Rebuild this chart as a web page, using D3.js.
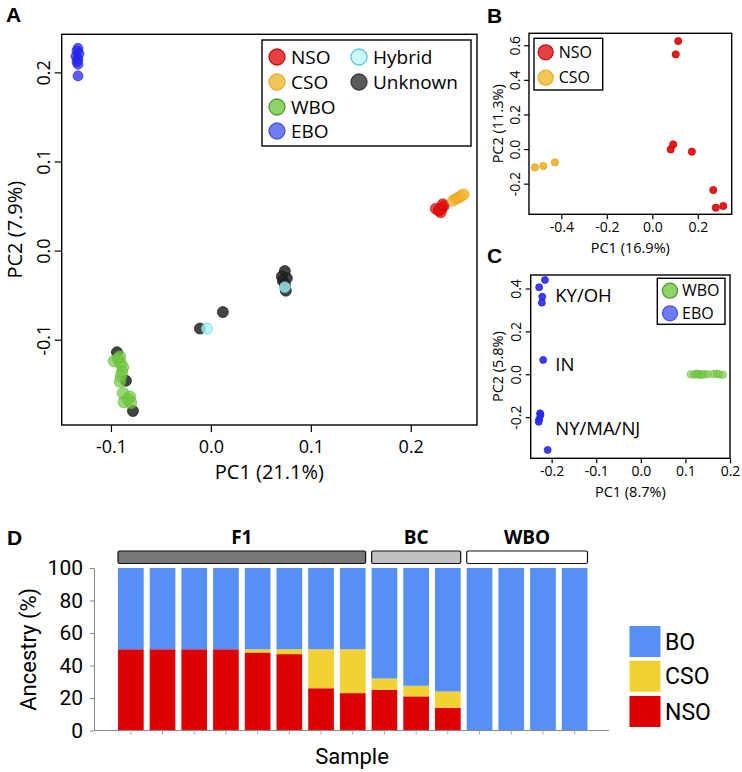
<!DOCTYPE html>
<html><head><meta charset="utf-8">
<script src="https://cdn.jsdelivr.net/npm/d3@7"></script>
<style>body{margin:0;background:#fff} svg text{font-family:"Open Sans","DejaVu Sans",sans-serif}</style>
</head><body><svg id="chart" width="742" height="772"></svg>
<script>
// ---------- Panel A data: [PC1, PC2] ----------
const aUnknown = [[-0.094,-0.114],[-0.085,-0.146],[-0.078,-0.180],[-0.011,-0.0875],[0.012,-0.069],
  [0.074,-0.023],[0.071,-0.029],[0.076,-0.031],[0.072,-0.034],[0.074,-0.038],[0.075,-0.045]];
const aWBO = [[-0.097,-0.124],[-0.093,-0.121],[-0.091,-0.119],[-0.090,-0.127],[-0.088,-0.131],[-0.089,-0.136],
  [-0.090,-0.141],[-0.091,-0.147],[-0.088,-0.160],[-0.081,-0.164],[-0.087,-0.170],[-0.080,-0.171],[-0.083,-0.167]];
const aEBO = [[-0.133,0.227],[-0.134,0.224],[-0.132,0.221],[-0.135,0.218],[-0.133,0.215],[-0.134,0.212],[-0.133,0.209],[-0.133,0.196]];
const aNSO = [[0.225,0.047],[0.228,0.045],[0.231,0.048],[0.233,0.050],[0.230,0.043],[0.229,0.046],[0.232,0.052]];
const aCSO = [[0.242,0.056],[0.245,0.058],[0.247,0.059],[0.249,0.060],[0.251,0.062],[0.253,0.063]];
const aHybrid = [[-0.004,-0.0875],[0.074,-0.041]];
const aXTicks = [-0.1, 0.0, 0.1, 0.2];
const aYTicks = [-0.1, 0.0, 0.1, 0.2];
const aLegend = ["NSO","CSO","WBO","EBO","Hybrid","Unknown"];

// ---------- Panel B data ----------
const bNSO = [[0.114,0.624],[0.103,0.547],[0.092,0.027],[0.081,-0.002],[0.174,-0.015],[0.268,-0.237],[0.279,-0.339],[0.312,-0.329]];
const bCSO = [[-0.516,-0.106],[-0.479,-0.098],[-0.428,-0.077]];
const bXTicks = [-0.4,-0.2,0.0,0.2];
const bYTicks = [-0.2,0.0,0.2,0.4,0.6];

// ---------- Panel C data ----------
const cEBO = [[-0.215,0.440],[-0.228,0.406],[-0.221,0.362],[-0.222,0.334],[-0.219,0.067],
  [-0.226,-0.182],[-0.225,-0.190],[-0.228,-0.210],[-0.229,-0.222],[-0.209,-0.353]];
const cWBO = [[0.112,0.0],[0.120,-0.002],[0.125,0.003],[0.129,0.0],[0.134,-0.003],[0.138,0.001],[0.143,-0.001],
  [0.150,0.0],[0.163,0.001],[0.170,0.003],[0.176,-0.001],[0.184,-0.002]];
const cXTicks = [-0.2,-0.1,0.0,0.1,0.2];
const cYTicks = [-0.2,0.0,0.2,0.4];
const cRegions = ["KY/OH","IN","NY/MA/NJ"];
const cRegionY = [0.37, 0.045, -0.25];

// ---------- Panel D data ----------
const samples = ["S1","S2","S3","S4","S5","S6","S7","S8","S9","S10","S11","S12","S13","S14","S15"];
const dNSO = [50,50,50,50,48,47,26,23,25,21,14,0,0,0,0];
const dCSO = [0,0,0,0,2,3,24,27,7,6.5,10,0,0,0,0];
const dBO  = samples.map((s,i)=>100-dNSO[i]-dCSO[i]);
const dYTicks = [0,20,40,60,80,100];
const groupNames = ["F1","BC","WBO"];
const groupFirst = [0,8,11];
const groupLast  = [7,10,14];
const dKeys = ["NSO","CSO","BO"];

// ---------- styles ----------
const ptStyle = {
  NSO:{fill:"rgb(225,15,15)",stroke:"rgb(200,0,0)"},
  CSO:{fill:"rgb(242,180,45)",stroke:"rgb(225,160,30)"},
  WBO:{fill:"rgb(115,200,65)",stroke:"rgb(95,180,50)"},
  EBO:{fill:"rgb(40,40,235)",stroke:"rgb(30,30,220)"},
  Hybrid:{fill:"rgb(165,245,245)",stroke:"rgb(80,200,215)"},
  Unknown:{fill:"rgb(35,35,35)",stroke:"rgb(20,20,20)"}
};
const legStyle = {
  NSO:{fill:"#e84040",stroke:"#c01010"}, CSO:{fill:"#f3c65a",stroke:"#e6ac2a"},
  WBO:{fill:"#8fd467",stroke:"#4f9a2c"}, EBO:{fill:"#6f7cf2",stroke:"#4a55d8"},
  Hybrid:{fill:"#c8fafa",stroke:"#55c8d8"}, Unknown:{fill:"#5a5a5a",stroke:"#3a3a3a"}
};
const dColor = {NSO:"#dd0000", CSO:"#f2d232", BO:"#5690f5"};
const fmt = v => v.toFixed(1);

const svg = d3.select("#chart");
svg.append("rect").attr("width",742).attr("height",772).attr("fill","#fff");

function scatterPanel(o){
  const x = d3.scaleLinear().domain(o.xd).range([o.x0,o.x1]);
  const y = d3.scaleLinear().domain(o.yd).range([o.y1,o.y0]);
  const g = svg.append("g");
  const ax = g.append("g").attr("transform",`translate(0,${o.y1})`)
    .call(d3.axisBottom(x).tickValues(o.xt).tickFormat(fmt).tickSize(o.tl).tickSizeOuter(0).tickPadding(o.xpad));
  ax.select(".domain").remove();
  ax.selectAll("line").attr("stroke","#000").attr("stroke-width",1.2);
  ax.selectAll("text").attr("font-size",o.fs).attr("fill","#000").style("font-family","'Open Sans',sans-serif");
  const ay = g.append("g").attr("transform",`translate(${o.x0},0)`)
    .call(d3.axisLeft(y).tickValues(o.yt).tickFormat(fmt).tickSize(o.tl).tickSizeOuter(0));
  ay.select(".domain").remove();
  ay.selectAll("line").attr("stroke","#000").attr("stroke-width",1.2);
  ay.selectAll("text").attr("font-size",o.fs).attr("fill","#000")
    .attr("x",0).attr("y",-o.yoff).attr("dy",0).attr("text-anchor","middle")
    .attr("transform","rotate(-90)").style("font-family","'Open Sans',sans-serif");
  g.append("text").attr("x",(o.x0+o.x1)/2).attr("y",o.xtY).attr("text-anchor","middle")
    .attr("font-size",o.tfs).text(o.xtitle);
  g.append("text").attr("transform",`translate(${o.ytX},${(o.y0+o.y1)/2}) rotate(-90)`)
    .attr("text-anchor","middle").attr("font-size",o.tfs).text(o.ytitle);
  return {x,y,g,o};
}
function drawPoints(p, data, key, r, op){
  p.g.append("g").selectAll("circle").data(data).join("circle")
    .attr("cx",d=>p.x(d[0])).attr("cy",d=>p.y(d[1])).attr("r",r)
    .attr("fill",ptStyle[key].fill).attr("fill-opacity",op)
    .attr("stroke",ptStyle[key].stroke).attr("stroke-opacity",op).attr("stroke-width",0.8);
}
function drawBox(p){
  const o=p.o;
  p.g.append("rect").attr("x",o.x0).attr("y",o.y0).attr("width",o.x1-o.x0).attr("height",o.y1-o.y0)
    .attr("fill","none").attr("stroke","#000").attr("stroke-width",1.4);
}
function legendBox(x0,y0,x1,y1,items,cx,cy,r,fs,tx){
  const g = svg.append("g");
  g.append("rect").attr("x",x0).attr("y",y0).attr("width",x1-x0).attr("height",y1-y0)
    .attr("fill","#fff").attr("stroke","#000").attr("stroke-width",1.4);
  items.forEach((k,i)=>{
    g.append("circle").attr("cx",cx[i]).attr("cy",cy[i]).attr("r",r)
      .attr("fill",legStyle[k].fill).attr("stroke",legStyle[k].stroke).attr("stroke-width",1.3);
    g.append("text").attr("x",cx[i]+tx).attr("y",cy[i]).attr("dy","0.36em").attr("font-size",fs).text(k);
  });
}
function panelLetter(t,x,y){
  svg.append("text").attr("x",x).attr("y",y).attr("font-size",21).attr("font-weight","bold")
    .style("font-family","'Liberation Sans',Arial,sans-serif").text(t);
}

// ---------- Panel A ----------
const pA = scatterPanel({x0:61.7,x1:477,y0:34.3,y1:425,xd:[-0.1493,0.2663],yd:[-0.1957,0.2427],
  xt:aXTicks,yt:aYTicks,tl:7,xpad:8,yoff:12,fs:18,tfs:20,xtitle:"PC1 (21.1%)",ytitle:"PC2 (7.9%)",xtY:479,ytX:22});
drawPoints(pA,aUnknown,"Unknown",5.5,0.85);
drawPoints(pA,aWBO,"WBO",5.8,0.72);
drawPoints(pA,aEBO,"EBO",5,0.75);
drawPoints(pA,aNSO,"NSO",5.5,0.75);
drawPoints(pA,aCSO,"CSO",5.5,0.75);
drawPoints(pA,aHybrid,"Hybrid",5.5,0.8);
drawBox(pA);
legendBox(262,40,471,146,aLegend,[277,277,277,277,359,359],[57,82,107,131,57,82],8,19,14);
panelLetter("A",6,22);

// ---------- Panel B ----------
const pB = scatterPanel({x0:529,x1:731.7,y0:33.3,y1:214.3,xd:[-0.542,0.349],yd:[-0.377,0.669],
  xt:bXTicks,yt:bYTicks,tl:5,xpad:3,yoff:9,fs:14,tfs:14.5,xtitle:"PC1 (16.9%)",ytitle:"PC2 (11.3%)",xtY:253,ytX:503});
drawPoints(pB,bCSO,"CSO",3.6,0.95);
drawPoints(pB,bNSO,"NSO",3.6,0.95);
drawBox(pB);
legendBox(534,38.3,602.7,90,["NSO","CSO"],[545.7,545.7],[52.3,77.7],7.5,16,13);
panelLetter("B",487,23);

// ---------- Panel C ----------
const pC = scatterPanel({x0:530.7,x1:730,y0:275,y1:458.3,xd:[-0.247,0.2],yd:[-0.392,0.463],
  xt:cXTicks,yt:cYTicks,tl:5,xpad:3,yoff:10,fs:14,tfs:14.5,xtitle:"PC1 (8.7%)",ytitle:"PC2 (5.8%)",xtY:497,ytX:503});
drawPoints(pC,cWBO,"WBO",3.8,0.6);
drawPoints(pC,cEBO,"EBO",3.5,0.9);
cRegions.forEach((t,i)=>{
  pC.g.append("text").attr("x",pC.x(-0.192)).attr("y",pC.y(cRegionY[i])).attr("dy","0.36em")
    .attr("font-size",18.5).text(t);
});
drawBox(pC);
legendBox(657.3,278.3,725,324.3,["WBO","EBO"],[670,670],[290.7,313.3],7.5,16,12);
panelLetter("C",487,263);

// ---------- Panel D ----------
const condensed = "Roboto,'Open Sans',sans-serif";
const xD = d3.scaleBand().domain(samples).range([118,587.5]).paddingInner(0.19).paddingOuter(0);
const yD = d3.scaleLinear().domain([0,100]).range([730.5,568]);
const table = samples.map((s,i)=>({sample:s,NSO:dNSO[i],CSO:dCSO[i],BO:dBO[i]}));
const stack = d3.stack().keys(dKeys)(table);
const gD = svg.append("g");
gD.selectAll("g.layer").data(stack).join("g").attr("fill",d=>dColor[d.key])
  .selectAll("rect").data(d=>d).join("rect")
  .attr("x",d=>xD(d.data.sample)).attr("width",xD.bandwidth())
  .attr("y",d=>yD(d[1])).attr("height",d=>yD(d[0])-yD(d[1]));
// y axis
const ayD = gD.append("g").attr("transform","translate(94,0)")
  .call(d3.axisLeft(yD).tickValues(dYTicks).tickSize(4).tickPadding(7).tickSizeOuter(0));
ayD.select(".domain").attr("stroke","#888");
ayD.selectAll("line").attr("stroke","#888");
ayD.selectAll("text").attr("font-size",21).attr("fill","#000").style("font-family",condensed);
// baseline + small ticks
gD.append("line").attr("x1",94).attr("x2",609).attr("y1",yD(0)).attr("y2",yD(0)).attr("stroke","#888");
gD.selectAll("line.st").data(samples).join("line").attr("class","st")
  .attr("x1",d=>xD(d)+xD.bandwidth()/2).attr("x2",d=>xD(d)+xD.bandwidth()/2)
  .attr("y1",yD(0)).attr("y2",yD(0)+4).attr("stroke","#aaa");
// group headers
const hFill = ["#777777","#c0c0c0","#ffffff"];
groupNames.forEach((n,i)=>{
  const x0 = xD(samples[groupFirst[i]]), x1 = xD(samples[groupLast[i]])+xD.bandwidth();
  gD.append("rect").attr("x",x0).attr("y",551).attr("width",x1-x0).attr("height",12.5)
    .attr("rx",1.5).attr("fill",hFill[i]).attr("stroke","#111").attr("stroke-width",1.2);
  gD.append("text").attr("x",(x0+x1)/2).attr("y",544).attr("text-anchor","middle")
    .attr("font-size",19).attr("font-weight","bold").text(n);
});
// titles
gD.append("text").attr("transform",`translate(36,${(568+730.5)/2}) rotate(-90)`).attr("text-anchor","middle")
  .attr("font-size",22).style("font-family",condensed).text("Ancestry (%)");
gD.append("text").attr("x",352).attr("y",764).attr("text-anchor","middle")
  .attr("font-size",22).style("font-family",condensed).text("Sample");
// legend
const legKeys = ["BO","CSO","NSO"];
const legY = [626,660.7,696];
legKeys.forEach((k,i)=>{
  gD.append("rect").attr("x",629.5).attr("y",legY[i]).attr("width",31).attr("height",31).attr("fill",dColor[k]);
  gD.append("text").attr("x",665).attr("y",legY[i]+15.5).attr("dy","0.36em").attr("font-size",23)
    .style("font-family",condensed).text(k);
});
panelLetter("D",7,545);
</script></body></html>
